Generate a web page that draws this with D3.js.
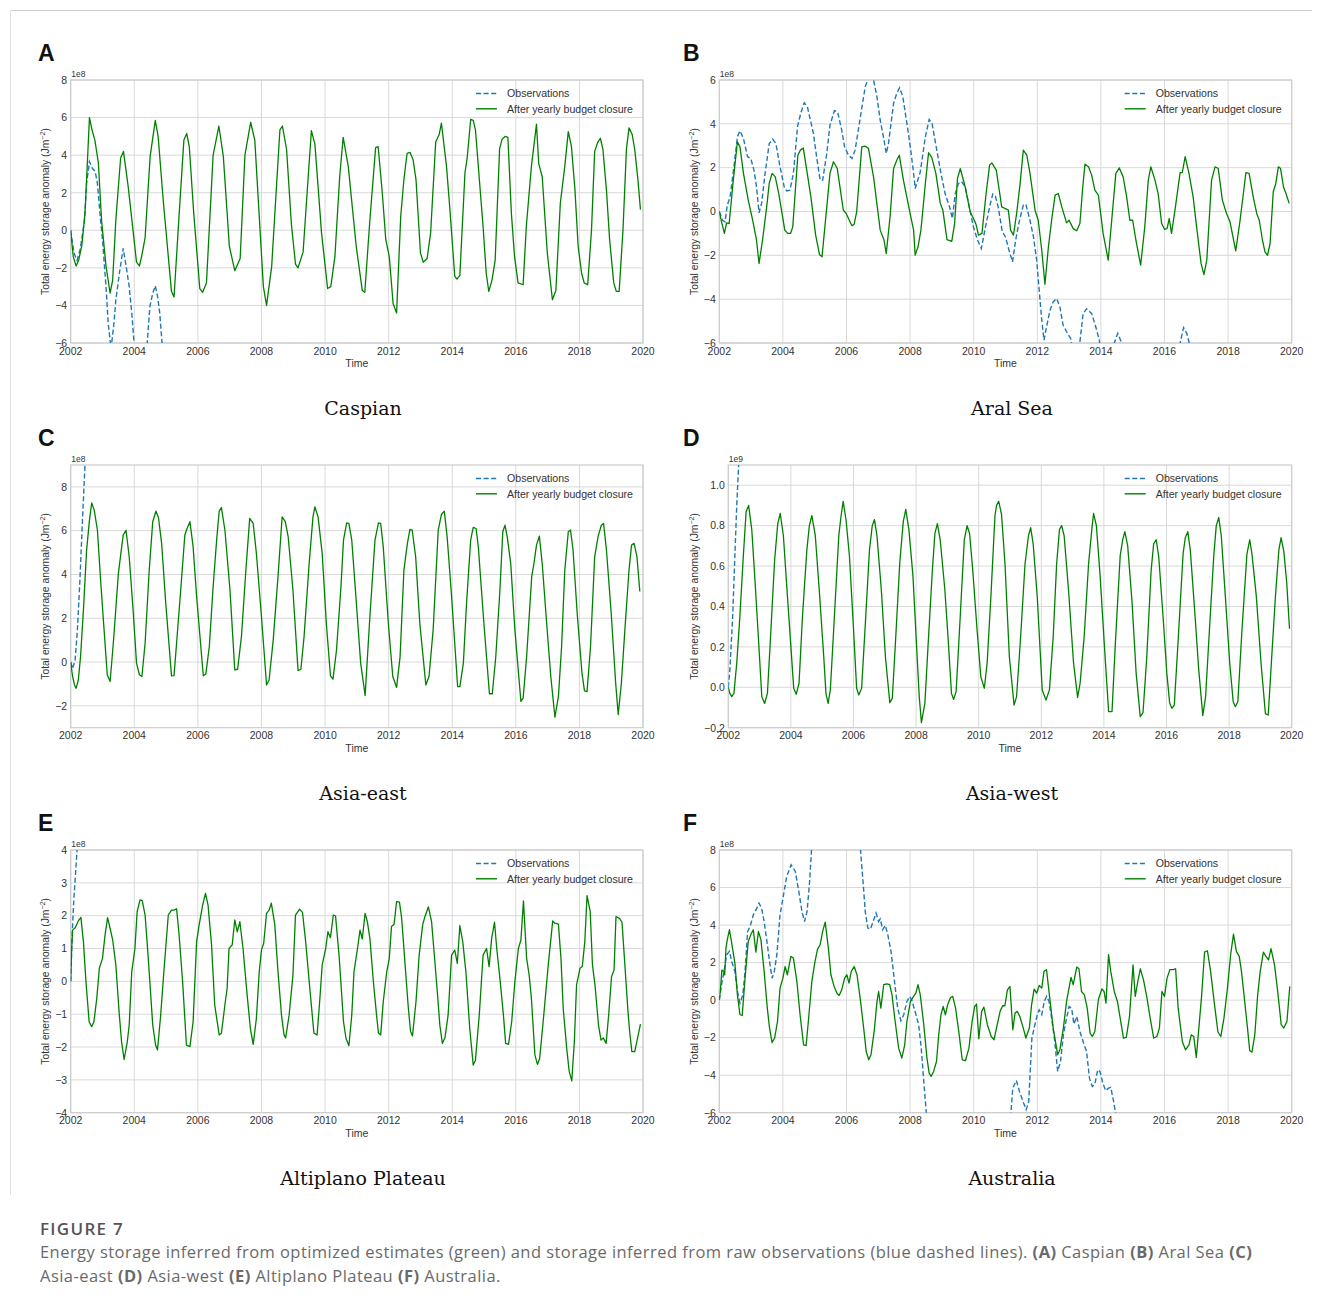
<!DOCTYPE html>
<html>
<head>
<meta charset="utf-8">
<script src="https://cdn.jsdelivr.net/npm/d3@7"></script>
<style>
  body { margin: 0; background: #fff; }
  svg { display: block; }
</style>
</head>
<body>
<svg id="fig" width="1322" height="1309"></svg>
<script>
// values, in units of the axis offset (1e8, or 1e9 for Asia-west)
const caspianBudget = [[2002.0,0],[2002.08,-1.4],[2002.17,-1.9],[2002.25,-1.6],[2002.35,-0.8],[2002.45,0.9],[2002.59,6.0],[2002.67,5.35],[2002.76,4.8],[2002.87,3.6],[2002.97,0.55],[2003.11,-1.9],[2003.24,-3.35],[2003.32,-2.65],[2003.42,0.55],[2003.57,3.85],[2003.66,4.2],[2003.81,2.3],[2003.97,-0.15],[2004.07,-1.7],[2004.16,-1.9],[2004.23,-1.4],[2004.34,-0.4],[2004.5,3.95],[2004.66,5.85],[2004.75,5.0],[2004.91,1.6],[2005.07,-1.4],[2005.17,-3.25],[2005.25,-3.55],[2005.42,1.1],[2005.56,4.8],[2005.65,5.15],[2005.73,4.45],[2005.87,0.9],[2006.06,-3.1],[2006.15,-3.3],[2006.27,-2.8],[2006.48,4.0],[2006.66,5.55],[2006.8,3.95],[2006.99,-0.85],[2007.16,-2.15],[2007.33,-1.5],[2007.48,4.0],[2007.66,5.75],[2007.79,4.8],[2008.06,-3.0],[2008.16,-4.0],[2008.32,-1.95],[2008.58,5.35],[2008.66,5.55],[2008.79,4.3],[2008.94,0.35],[2009.07,-1.8],[2009.15,-2.0],[2009.31,-1.15],[2009.47,2.85],[2009.57,5.3],[2009.68,4.6],[2009.89,-0.15],[2010.08,-3.1],[2010.18,-3.0],[2010.31,-1.4],[2010.46,2.85],[2010.57,4.95],[2010.73,3.4],[2010.98,-0.85],[2011.17,-3.2],[2011.25,-3.3],[2011.41,0.55],[2011.59,4.4],[2011.67,4.45],[2011.8,2.0],[2011.91,-0.5],[2012.02,-1.4],[2012.14,-3.9],[2012.25,-4.4],[2012.38,0.75],[2012.48,2.7],[2012.58,4.1],[2012.67,4.15],[2012.77,3.75],[2012.86,2.7],[2013.0,-1.2],[2013.09,-1.7],[2013.21,-1.5],[2013.32,-0.15],[2013.48,4.7],[2013.59,5.1],[2013.66,5.7],[2013.82,3.4],[2013.92,1.25],[2014.08,-2.45],[2014.15,-2.6],[2014.24,-2.4],[2014.4,3.05],[2014.47,3.85],[2014.58,5.9],[2014.66,5.85],[2014.73,5.35],[2014.97,0.2],[2015.07,-2.3],[2015.15,-3.25],[2015.25,-2.65],[2015.35,-1.6],[2015.49,4.35],[2015.57,4.85],[2015.67,5.0],[2015.75,4.95],[2015.86,0.9],[2015.96,-1.4],[2016.07,-2.8],[2016.23,-2.9],[2016.33,0.2],[2016.49,3.4],[2016.65,5.65],[2016.72,3.55],[2016.83,2.85],[2016.99,-1.2],[2017.15,-3.7],[2017.26,-3.2],[2017.4,1.45],[2017.54,3.4],[2017.65,5.25],[2017.75,4.45],[2017.86,2.15],[2017.96,-0.85],[2018.07,-2.3],[2018.15,-2.8],[2018.26,-2.9],[2018.38,0.0],[2018.48,4.2],[2018.57,4.65],[2018.66,4.9],[2018.74,4.3],[2018.85,2.15],[2018.95,-0.5],[2019.08,-2.8],[2019.16,-3.25],[2019.25,-3.25],[2019.37,0.0],[2019.48,4.35],[2019.56,5.45],[2019.66,5.1],[2019.74,4.3],[2019.84,2.7],[2019.92,1.1]];
const caspianObs = [[2002.0,0],[2002.1,-1.2],[2002.2,-1.6],[2002.3,-1.0],[2002.43,0.46],[2002.5,2.5],[2002.59,3.66],[2002.68,3.3],[2002.77,3.13],[2002.84,2.5],[2002.92,0.9],[2003.0,-0.5],[2003.11,-3.0],[2003.18,-4.95],[2003.27,-6.3],[2003.36,-4.95],[2003.42,-3.7],[2003.53,-2.3],[2003.65,-0.96],[2003.76,-2.1],[2003.84,-3.0],[2003.92,-4.4],[2003.99,-5.93],[2004.1,-7.5],[2004.3,-7.5],[2004.41,-5.93],[2004.49,-4.06],[2004.58,-3.35],[2004.66,-2.95],[2004.73,-3.5],[2004.8,-4.4],[2004.87,-5.93],[2005.0,-8]];

const aralBudget = [[2002.0,0],[2002.07,-0.47],[2002.16,-1.0],[2002.23,-0.52],[2002.31,-0.55],[2002.44,1.43],[2002.57,3.18],[2002.65,2.95],[2002.76,1.74],[2002.91,0.52],[2003.05,-0.4],[2003.17,-1.3],[2003.25,-2.37],[2003.36,-1.3],[2003.49,0.21],[2003.57,1.28],[2003.66,1.74],[2003.76,1.58],[2003.87,0.82],[2004.06,-0.85],[2004.15,-1.0],[2004.24,-1.0],[2004.31,-0.7],[2004.47,2.57],[2004.55,2.8],[2004.64,2.9],[2004.75,1.89],[2004.88,0.67],[2005.03,-1.08],[2005.15,-1.96],[2005.23,-2.07],[2005.38,0.21],[2005.48,1.74],[2005.59,2.27],[2005.71,1.96],[2005.9,0.06],[2005.99,-0.09],[2006.17,-0.65],[2006.24,-0.58],[2006.32,-0.02],[2006.48,2.95],[2006.59,2.98],[2006.69,2.88],[2006.85,1.58],[2007.06,-0.85],[2007.18,-1.3],[2007.25,-1.92],[2007.37,-0.24],[2007.48,1.96],[2007.58,2.34],[2007.66,2.57],[2007.79,1.43],[2008.0,-0.09],[2008.11,-0.85],[2008.16,-1.99],[2008.25,-1.61],[2008.34,-0.85],[2008.48,1.28],[2008.58,2.68],[2008.68,2.47],[2008.81,1.74],[2008.95,0.37],[2009.03,0.06],[2009.16,-1.28],[2009.31,-1.36],[2009.4,-0.55],[2009.49,1.51],[2009.58,1.96],[2009.73,1.13],[2009.89,-0.02],[2010.02,-0.4],[2010.08,-0.62],[2010.15,-1.08],[2010.26,-1.0],[2010.39,0.82],[2010.5,2.12],[2010.57,2.22],[2010.71,1.89],[2010.88,0.21],[2010.98,0.14],[2011.09,0.06],[2011.16,-0.85],[2011.25,-1.08],[2011.35,-0.09],[2011.46,1.28],[2011.56,2.8],[2011.67,2.57],[2011.77,1.74],[2011.93,0.06],[2012.03,-0.4],[2012.14,-1.77],[2012.24,-3.32],[2012.35,-1.61],[2012.45,-0.4],[2012.56,0.75],[2012.66,0.82],[2012.77,0.21],[2012.92,-0.52],[2013.0,-0.4],[2013.13,-0.78],[2013.24,-0.88],[2013.34,-0.55],[2013.43,1.13],[2013.5,2.16],[2013.61,2.04],[2013.71,1.66],[2013.81,0.97],[2013.92,0.75],[2014.07,-1.0],[2014.23,-2.22],[2014.34,-0.4],[2014.47,1.74],[2014.58,1.99],[2014.7,1.58],[2014.81,0.67],[2014.91,-0.4],[2015.0,-0.4],[2015.1,-1.3],[2015.25,-2.45],[2015.38,-0.7],[2015.49,1.43],[2015.57,2.04],[2015.7,1.43],[2015.8,0.82],[2015.91,-0.55],[2016.0,-0.81],[2016.08,-0.78],[2016.15,-0.32],[2016.22,-1.0],[2016.33,0.06],[2016.49,1.77],[2016.56,1.78],[2016.65,2.5],[2016.77,1.74],[2016.9,0.67],[2017.01,-0.7],[2017.15,-2.37],[2017.24,-2.88],[2017.33,-2.22],[2017.48,1.43],[2017.59,2.04],[2017.69,1.96],[2017.82,0.52],[2017.95,-0.09],[2018.06,-0.47],[2018.24,-1.8],[2018.37,-0.47],[2018.48,0.82],[2018.56,1.77],[2018.66,1.74],[2018.79,0.67],[2018.9,-0.09],[2018.98,-0.4],[2019.08,-1.3],[2019.16,-1.84],[2019.24,-2.0],[2019.32,-1.46],[2019.42,0.9],[2019.5,1.28],[2019.58,2.04],[2019.65,1.96],[2019.74,1.13],[2019.82,0.82],[2019.92,0.37]];
const aralObs = [[2002.0,0],[2002.1,-0.4],[2002.18,-0.47],[2002.25,0.29],[2002.34,0.67],[2002.46,2.04],[2002.57,3.41],[2002.65,3.68],[2002.76,3.33],[2002.89,2.5],[2002.99,2.42],[2003.09,1.89],[2003.17,1.13],[2003.25,-0.06],[2003.33,0.37],[2003.44,1.74],[2003.57,3.1],[2003.68,3.3],[2003.78,3.1],[2003.91,2.04],[2004.04,1.13],[2004.12,0.94],[2004.22,0.97],[2004.33,1.74],[2004.46,3.87],[2004.56,4.48],[2004.67,4.96],[2004.77,4.78],[2004.96,3.56],[2005.06,2.5],[2005.17,1.43],[2005.25,1.43],[2005.38,2.65],[2005.48,3.94],[2005.62,4.6],[2005.72,4.55],[2005.85,3.71],[2005.94,2.95],[2006.06,2.57],[2006.17,2.42],[2006.27,2.8],[2006.43,4.25],[2006.59,5.7],[2006.69,6.08],[2006.85,6.0],[2006.95,5.3],[2007.06,4.17],[2007.18,3.26],[2007.25,2.65],[2007.32,3.1],[2007.48,4.93],[2007.58,5.39],[2007.67,5.65],[2007.77,5.24],[2007.9,4.02],[2008.02,2.8],[2008.11,1.74],[2008.16,1.05],[2008.21,1.28],[2008.32,1.81],[2008.48,3.41],[2008.6,4.2],[2008.69,4.02],[2008.84,2.8],[2008.97,1.74],[2009.1,0.82],[2009.24,0.21],[2009.33,-0.32],[2009.42,0.82],[2009.52,1.28],[2009.62,1.36],[2009.73,1.13],[2009.84,0.37],[2009.99,-0.7],[2010.12,-1.3],[2010.24,-1.69],[2010.36,-0.78],[2010.5,0.21],[2010.6,0.8],[2010.68,0.7],[2010.77,0.21],[2010.9,-0.93],[2011.0,-1.16],[2011.11,-1.77],[2011.22,-2.3],[2011.32,-1.3],[2011.43,-0.47],[2011.56,0.29],[2011.64,0.33],[2011.77,-0.4],[2011.88,-1.16],[2011.98,-2.22],[2012.06,-3.6],[2012.14,-4.96],[2012.21,-5.87],[2012.29,-5.27],[2012.4,-4.5],[2012.5,-4.12],[2012.61,-3.97],[2012.71,-4.35],[2012.81,-5.18],[2012.95,-5.56],[2013.05,-5.8],[2013.18,-6.8],[2013.34,-5.95],[2013.44,-4.66],[2013.55,-4.44],[2013.71,-4.66],[2013.84,-5.27],[2013.95,-5.87],[2014.15,-8],[2014.43,-5.95],[2014.53,-5.56],[2014.64,-5.95],[2015.0,-9],[2016.2,-9],[2016.5,-5.95],[2016.6,-5.3],[2016.7,-5.56],[2016.77,-5.95],[2017.0,-8]];

const asiaEastBudget = [[2002.0,-0.02],[2002.06,-0.66],[2002.12,-1.05],[2002.17,-1.2],[2002.24,-0.82],[2002.31,0.25],[2002.4,2.37],[2002.5,5.1],[2002.59,6.48],[2002.66,7.27],[2002.74,6.94],[2002.84,6.03],[2002.94,3.75],[2003.05,1.47],[2003.15,-0.58],[2003.24,-0.89],[2003.34,0.86],[2003.5,4.05],[2003.65,5.8],[2003.74,6.02],[2003.84,4.81],[2003.97,2.23],[2004.07,-0.05],[2004.16,-0.58],[2004.24,-0.66],[2004.34,0.86],[2004.47,4.2],[2004.58,6.41],[2004.68,6.89],[2004.76,6.6],[2004.86,5.42],[2004.99,2.68],[2005.17,-0.63],[2005.25,-0.62],[2005.33,0.86],[2005.46,3.29],[2005.59,5.8],[2005.66,6.1],[2005.75,6.41],[2005.85,5.27],[2005.96,2.99],[2006.17,-0.63],[2006.25,-0.55],[2006.36,0.71],[2006.48,3.45],[2006.59,5.57],[2006.67,6.89],[2006.74,7.06],[2006.85,6.03],[2007.01,3.29],[2007.16,-0.36],[2007.25,-0.33],[2007.37,1.16],[2007.51,4.2],[2007.63,6.56],[2007.74,6.33],[2007.84,4.96],[2008.0,2.08],[2008.16,-1.05],[2008.24,-0.82],[2008.37,1.01],[2008.52,3.9],[2008.65,6.63],[2008.75,6.41],[2008.84,5.72],[2008.99,3.29],[2009.15,-0.39],[2009.24,-0.33],[2009.34,1.16],[2009.5,4.5],[2009.62,6.63],[2009.68,7.09],[2009.78,6.63],[2009.91,4.96],[2010.04,1.77],[2010.17,-0.63],[2010.25,-0.78],[2010.36,0.55],[2010.5,3.44],[2010.58,5.57],[2010.68,6.36],[2010.75,6.33],[2010.84,5.57],[2010.97,2.99],[2011.12,-0.05],[2011.26,-1.53],[2011.41,2.07],[2011.57,5.57],[2011.68,6.36],[2011.75,6.33],[2011.83,5.27],[2011.99,1.77],[2012.13,-0.66],[2012.25,-1.16],[2012.36,0.25],[2012.48,4.2],[2012.59,5.42],[2012.67,6.06],[2012.74,6.03],[2012.85,4.81],[2012.98,1.77],[2013.17,-1.05],[2013.27,-0.66],[2013.4,1.47],[2013.56,6.03],[2013.66,6.74],[2013.75,6.89],[2013.84,5.72],[2013.98,2.99],[2014.17,-1.12],[2014.24,-1.12],[2014.35,-0.05],[2014.45,2.68],[2014.58,5.57],[2014.66,6.15],[2014.75,6.1],[2014.82,5.27],[2014.98,2.07],[2015.17,-1.45],[2015.26,-1.45],[2015.37,0.25],[2015.5,3.29],[2015.59,5.95],[2015.66,6.25],[2015.73,5.72],[2015.84,4.5],[2015.97,1.47],[2016.16,-1.8],[2016.23,-1.65],[2016.34,0.25],[2016.5,3.9],[2016.57,4.5],[2016.65,5.34],[2016.74,5.75],[2016.83,4.5],[2016.97,1.77],[2017.1,-0.66],[2017.23,-2.52],[2017.34,-1.57],[2017.44,0.71],[2017.54,4.2],[2017.65,5.95],[2017.72,6.03],[2017.8,5.12],[2017.93,2.23],[2018.08,-0.5],[2018.16,-1.32],[2018.24,-1.35],[2018.35,0.71],[2018.48,4.81],[2018.59,5.75],[2018.69,6.25],[2018.76,6.33],[2018.85,5.12],[2019.0,2.23],[2019.14,-0.96],[2019.22,-2.4],[2019.32,-0.96],[2019.43,1.47],[2019.56,4.2],[2019.64,5.34],[2019.72,5.42],[2019.81,4.81],[2019.9,3.22]];
const asiaEastObs = [[2002.0,0],[2002.06,-0.3],[2002.14,0.1],[2002.21,1.45],[2002.29,3.75],[2002.38,6.8],[2002.45,9.0],[2002.6,12]];

const asiaWestBudget = [[2002.0,0.0],[2002.05,-0.03],[2002.11,-0.046],[2002.18,-0.03],[2002.27,0.12],[2002.37,0.35],[2002.48,0.65],[2002.57,0.87],[2002.65,0.9],[2002.75,0.78],[2002.86,0.51],[2002.96,0.25],[2003.07,-0.046],[2003.16,-0.08],[2003.25,-0.03],[2003.34,0.22],[2003.48,0.63],[2003.58,0.81],[2003.66,0.86],[2003.76,0.75],[2003.89,0.45],[2004.0,0.2],[2004.09,-0.005],[2004.17,-0.035],[2004.26,0.02],[2004.37,0.35],[2004.51,0.68],[2004.59,0.8],[2004.67,0.85],[2004.78,0.75],[2004.92,0.45],[2005.05,0.15],[2005.12,-0.03],[2005.19,-0.08],[2005.26,-0.013],[2005.39,0.35],[2005.53,0.75],[2005.6,0.845],[2005.67,0.92],[2005.76,0.83],[2005.87,0.65],[2005.99,0.32],[2006.1,-0.005],[2006.17,-0.038],[2006.26,-0.005],[2006.38,0.32],[2006.51,0.68],[2006.6,0.8],[2006.67,0.83],[2006.75,0.75],[2006.89,0.48],[2007.02,0.15],[2007.16,-0.076],[2007.24,-0.055],[2007.34,0.22],[2007.48,0.62],[2007.59,0.82],[2007.67,0.88],[2007.77,0.78],[2007.9,0.55],[2007.99,0.28],[2008.1,-0.046],[2008.17,-0.175],[2008.28,-0.08],[2008.38,0.2],[2008.52,0.58],[2008.6,0.76],[2008.68,0.81],[2008.77,0.73],[2008.92,0.48],[2009.04,0.2],[2009.13,-0.03],[2009.2,-0.06],[2009.28,-0.02],[2009.41,0.35],[2009.54,0.73],[2009.63,0.8],[2009.71,0.76],[2009.81,0.58],[2009.95,0.28],[2010.07,0.05],[2010.18,-0.005],[2010.27,0.12],[2010.39,0.45],[2010.52,0.85],[2010.57,0.9],[2010.64,0.92],[2010.73,0.855],[2010.84,0.61],[2010.98,0.15],[2011.13,-0.088],[2011.21,-0.046],[2011.34,0.25],[2011.48,0.61],[2011.59,0.75],[2011.66,0.79],[2011.74,0.71],[2011.87,0.45],[2012.03,-0.013],[2012.15,-0.063],[2012.26,-0.013],[2012.38,0.25],[2012.49,0.61],[2012.58,0.78],[2012.65,0.8],[2012.73,0.75],[2012.87,0.48],[2013.03,0.12],[2013.16,-0.05],[2013.24,0.02],[2013.37,0.25],[2013.51,0.61],[2013.62,0.79],[2013.67,0.86],[2013.76,0.8],[2013.88,0.55],[2014.01,0.22],[2014.15,-0.12],[2014.26,-0.12],[2014.36,0.2],[2014.52,0.65],[2014.6,0.73],[2014.67,0.77],[2014.76,0.7],[2014.9,0.42],[2015.03,0.07],[2015.16,-0.145],[2015.25,-0.125],[2015.37,0.15],[2015.51,0.58],[2015.59,0.71],[2015.67,0.73],[2015.75,0.65],[2015.89,0.35],[2016.01,0.07],[2016.1,-0.076],[2016.17,-0.104],[2016.25,-0.088],[2016.39,0.28],[2016.53,0.66],[2016.6,0.74],[2016.68,0.77],[2016.76,0.68],[2016.9,0.38],[2017.03,0.086],[2017.16,-0.14],[2017.25,-0.046],[2017.37,0.28],[2017.51,0.65],[2017.59,0.8],[2017.67,0.84],[2017.75,0.75],[2017.88,0.45],[2018.02,0.12],[2018.13,-0.07],[2018.2,-0.096],[2018.28,-0.07],[2018.41,0.28],[2018.57,0.66],[2018.66,0.73],[2018.73,0.66],[2018.87,0.45],[2019.02,0.12],[2019.16,-0.13],[2019.25,-0.137],[2019.35,0.12],[2019.48,0.45],[2019.59,0.68],[2019.66,0.74],[2019.75,0.67],[2019.84,0.52],[2019.93,0.29]];
const asiaWestObs = [[2002.0,0.0],[2002.05,0.086],[2002.14,0.35],[2002.21,0.65],[2002.27,0.9],[2002.33,1.1],[2002.45,1.4]];

const altiplanoBudget = [[2002.0,0.0],[2002.03,1.0],[2002.06,1.56],[2002.14,1.63],[2002.24,1.84],[2002.32,1.95],[2002.4,1.21],[2002.48,-0.01],[2002.58,-1.23],[2002.66,-1.38],[2002.73,-1.23],[2002.82,-0.52],[2002.9,0.4],[2003.0,0.7],[2003.08,1.41],[2003.16,1.94],[2003.24,1.61],[2003.32,1.26],[2003.42,0.5],[2003.53,-1.03],[2003.6,-1.84],[2003.68,-2.38],[2003.78,-1.84],[2003.84,-1.33],[2003.92,0.29],[2004.02,1.0],[2004.09,2.12],[2004.18,2.48],[2004.25,2.46],[2004.34,2.02],[2004.44,0.7],[2004.58,-1.33],[2004.67,-1.94],[2004.73,-2.09],[2004.83,-1.03],[2004.93,0.29],[2005.07,2.02],[2005.17,2.17],[2005.25,2.17],[2005.33,2.21],[2005.41,1.41],[2005.52,-0.01],[2005.64,-1.94],[2005.75,-1.99],[2005.85,-1.23],[2005.96,1.21],[2006.04,1.72],[2006.15,2.32],[2006.24,2.68],[2006.32,2.32],[2006.43,1.11],[2006.53,-0.72],[2006.67,-1.63],[2006.74,-1.58],[2006.85,-0.72],[2006.92,-0.21],[2006.98,1.0],[2007.08,1.11],[2007.16,1.87],[2007.24,1.51],[2007.32,1.82],[2007.42,1.0],[2007.55,-0.42],[2007.65,-1.43],[2007.74,-1.92],[2007.84,-1.13],[2007.93,0.29],[2008.0,0.95],[2008.07,1.16],[2008.16,2.07],[2008.24,2.17],[2008.31,2.38],[2008.42,1.72],[2008.52,0.29],[2008.63,-1.03],[2008.71,-1.63],[2008.76,-1.72],[2008.87,-1.03],[2008.99,0.19],[2009.07,2.02],[2009.2,2.2],[2009.29,2.1],[2009.39,1.21],[2009.52,-0.21],[2009.65,-1.58],[2009.75,-1.63],[2009.83,-0.62],[2009.91,0.5],[2010.02,1.0],[2010.09,1.51],[2010.17,1.33],[2010.26,2.02],[2010.33,1.99],[2010.44,0.8],[2010.58,-1.23],[2010.66,-1.74],[2010.75,-1.96],[2010.84,-1.03],[2010.91,0.29],[2011.02,1.0],[2011.1,1.56],[2011.17,1.29],[2011.26,2.07],[2011.33,1.82],[2011.41,1.31],[2011.52,-0.01],[2011.62,-1.03],[2011.68,-1.58],[2011.75,-1.63],[2011.83,-0.62],[2011.94,0.29],[2012.02,0.7],[2012.09,1.67],[2012.17,1.74],[2012.25,2.43],[2012.34,2.41],[2012.41,1.92],[2012.51,0.6],[2012.62,-0.82],[2012.69,-1.53],[2012.75,-1.66],[2012.86,-0.62],[2012.96,0.8],[2013.07,1.72],[2013.14,1.97],[2013.25,2.27],[2013.35,1.82],[2013.42,1.0],[2013.53,-0.31],[2013.61,-1.33],[2013.69,-1.89],[2013.77,-1.72],[2013.87,-1.03],[2013.98,0.8],[2014.08,0.95],[2014.16,0.55],[2014.24,1.7],[2014.33,1.21],[2014.43,0.29],[2014.55,-1.43],[2014.66,-2.55],[2014.73,-2.4],[2014.85,-1.03],[2014.97,0.8],[2015.08,1.0],[2015.16,0.45],[2015.24,1.31],[2015.33,1.8],[2015.4,1.0],[2015.51,-0.01],[2015.61,-1.03],[2015.68,-1.89],[2015.77,-1.92],[2015.87,-1.23],[2015.97,-0.01],[2016.08,1.0],[2016.16,1.26],[2016.24,2.45],[2016.34,0.7],[2016.42,0.19],[2016.49,-0.52],[2016.6,-2.24],[2016.68,-2.53],[2016.75,-2.35],[2016.86,-1.23],[2017.02,0.5],[2017.16,1.84],[2017.23,1.77],[2017.34,1.74],[2017.42,0.7],[2017.49,-0.82],[2017.6,-2.04],[2017.68,-2.75],[2017.76,-3.03],[2017.84,-1.84],[2017.91,-0.11],[2018.02,0.4],[2018.09,0.45],[2018.17,1.21],[2018.24,2.61],[2018.34,2.12],[2018.41,0.5],[2018.49,-0.11],[2018.6,-1.33],[2018.68,-1.79],[2018.75,-1.72],[2018.84,-1.89],[2018.92,-1.03],[2019.01,0.14],[2019.09,0.35],[2019.15,1.97],[2019.26,1.92],[2019.34,1.8],[2019.43,0.5],[2019.52,-0.82],[2019.58,-1.53],[2019.65,-2.14],[2019.74,-2.14],[2019.85,-1.63],[2019.92,-1.3]];
const altiplanoObs = [[2002.0,0.0],[2002.05,1.51],[2002.1,2.53],[2002.16,3.39],[2002.2,4.0],[2002.3,5.0]];

const australiaBudget = [[2002.0,0.0],[2002.04,0.64],[2002.08,1.6],[2002.14,1.53],[2002.17,1.35],[2002.21,2.77],[2002.25,3.21],[2002.32,3.75],[2002.39,3.04],[2002.49,1.97],[2002.57,0.28],[2002.65,-0.78],[2002.72,-0.82],[2002.81,1.17],[2002.91,3.13],[2002.99,3.48],[2003.07,3.75],[2003.15,2.56],[2003.23,3.66],[2003.31,3.21],[2003.41,1.53],[2003.51,-0.43],[2003.58,-1.49],[2003.66,-2.26],[2003.74,-2.02],[2003.83,-1.14],[2003.91,0.64],[2004.0,1.17],[2004.07,1.79],[2004.14,1.35],[2004.25,2.33],[2004.33,2.24],[2004.44,0.99],[2004.54,-0.78],[2004.65,-2.38],[2004.73,-2.42],[2004.8,-1.14],[2004.91,0.99],[2005.01,2.06],[2005.09,2.72],[2005.17,2.95],[2005.25,3.66],[2005.33,4.16],[2005.43,2.77],[2005.51,1.35],[2005.61,0.73],[2005.7,0.37],[2005.77,0.25],[2005.85,0.55],[2005.94,1.17],[2006.01,1.35],[2006.08,0.91],[2006.15,1.53],[2006.24,1.79],[2006.33,1.35],[2006.43,0.11],[2006.54,-1.49],[2006.62,-2.74],[2006.7,-3.18],[2006.77,-2.91],[2006.87,-1.67],[2006.96,-0.07],[2007.01,0.46],[2007.08,-0.43],[2007.17,0.82],[2007.27,0.87],[2007.36,0.82],[2007.43,0.28],[2007.53,-1.14],[2007.64,-2.56],[2007.74,-3.09],[2007.83,-2.38],[2007.9,-1.14],[2008.01,-0.07],[2008.11,0.2],[2008.18,0.37],[2008.25,0.82],[2008.32,0.28],[2008.43,-1.31],[2008.53,-3.09],[2008.6,-3.89],[2008.66,-4.07],[2008.74,-3.8],[2008.83,-3.27],[2008.9,-1.85],[2008.97,-0.78],[2009.04,-0.34],[2009.11,-0.78],[2009.18,-0.25],[2009.27,0.14],[2009.34,0.2],[2009.43,-0.43],[2009.53,-1.67],[2009.64,-3.18],[2009.74,-3.23],[2009.85,-2.56],[2009.95,-1.14],[2010.03,-0.34],[2010.09,-0.21],[2010.16,-2.06],[2010.25,-0.6],[2010.32,-0.37],[2010.43,-1.31],[2010.55,-1.94],[2010.64,-2.11],[2010.74,-1.31],[2010.83,-0.6],[2010.91,-0.3],[2010.98,-0.3],[2011.06,0.55],[2011.14,0.73],[2011.23,-1.58],[2011.3,-0.69],[2011.37,-0.6],[2011.45,-0.87],[2011.56,-1.49],[2011.64,-2.02],[2011.75,-1.49],[2011.82,-0.25],[2011.9,0.59],[2011.98,0.37],[2012.06,0.78],[2012.14,0.64],[2012.21,1.53],[2012.29,1.62],[2012.38,0.28],[2012.5,-1.49],[2012.64,-2.91],[2012.71,-2.65],[2012.82,-1.49],[2012.92,-0.07],[2013.06,1.21],[2013.13,0.82],[2013.24,1.76],[2013.31,1.67],[2013.39,0.46],[2013.48,0.28],[2013.57,-0.43],[2013.66,-1.76],[2013.73,-1.94],[2013.81,-1.67],[2013.92,0.02],[2014.03,0.6],[2014.1,0.46],[2014.16,-0.16],[2014.24,2.42],[2014.31,1.53],[2014.42,0.46],[2014.52,-0.07],[2014.64,-1.31],[2014.71,-2.02],[2014.8,-1.99],[2014.9,-0.87],[2015.01,1.88],[2015.08,0.2],[2015.16,0.99],[2015.24,1.67],[2015.34,1.08],[2015.45,0.11],[2015.55,-0.96],[2015.66,-2.02],[2015.76,-1.94],[2015.84,-1.49],[2015.92,0.46],[2016.0,0.2],[2016.08,1.17],[2016.17,1.62],[2016.27,1.62],[2016.35,1.67],[2016.43,-0.43],[2016.56,-2.2],[2016.66,-2.65],[2016.77,-2.38],[2016.84,-1.85],[2016.92,-1.94],[2017.0,-3.05],[2017.08,-1.49],[2017.17,0.28],[2017.26,2.56],[2017.35,2.63],[2017.45,1.53],[2017.56,-0.07],[2017.68,-1.7],[2017.77,-1.94],[2017.87,-0.96],[2017.98,0.64],[2018.08,2.42],[2018.17,3.52],[2018.26,2.6],[2018.35,2.33],[2018.42,1.53],[2018.5,0.28],[2018.61,-1.49],[2018.68,-2.7],[2018.75,-2.77],[2018.84,-1.85],[2018.93,0.28],[2019.01,1.53],[2019.11,2.56],[2019.19,2.33],[2019.27,2.15],[2019.35,2.74],[2019.46,1.88],[2019.56,0.46],[2019.67,-1.31],[2019.75,-1.49],[2019.85,-1.14],[2019.94,0.73]];
const australiaObs = [[2002.0,0.0],[2002.07,0.82],[2002.15,1.53],[2002.23,2.42],[2002.32,2.6],[2002.39,2.06],[2002.49,1.53],[2002.57,0.46],[2002.65,-0.16],[2002.74,0.28],[2002.81,1.53],[2002.89,3.66],[2002.97,3.93],[2003.07,4.55],[2003.18,4.9],[2003.25,5.17],[2003.33,4.9],[2003.41,4.19],[2003.49,3.21],[2003.58,2.06],[2003.66,1.17],[2003.73,1.53],[2003.81,2.42],[2003.91,4.55],[2004.02,5.61],[2004.12,6.59],[2004.26,7.21],[2004.39,6.86],[2004.5,5.79],[2004.6,4.72],[2004.68,4.19],[2004.76,4.72],[2004.84,6.32],[2004.9,8.0],[2005.1,11],[2006.2,11],[2006.44,8.0],[2006.52,6.32],[2006.59,4.72],[2006.67,3.84],[2006.75,3.78],[2006.84,4.19],[2006.93,4.64],[2007.01,4.19],[2007.06,4.33],[2007.14,3.75],[2007.22,3.98],[2007.3,3.48],[2007.4,2.6],[2007.51,0.99],[2007.61,-0.43],[2007.71,-1.1],[2007.8,-0.78],[2007.9,-0.07],[2007.99,0.2],[2008.06,-0.04],[2008.17,-0.69],[2008.27,-1.31],[2008.35,-2.56],[2008.43,-4.33],[2008.51,-6.0],[2008.7,-9],[2010.9,-9],[2011.17,-6.0],[2011.23,-4.69],[2011.34,-4.28],[2011.44,-4.87],[2011.55,-5.4],[2011.65,-5.84],[2011.73,-5.4],[2011.83,-2.02],[2011.9,-1.49],[2012.0,-0.78],[2012.06,-0.52],[2012.14,-0.78],[2012.22,-0.07],[2012.29,0.2],[2012.37,-0.07],[2012.45,-0.96],[2012.55,-2.2],[2012.64,-3.8],[2012.73,-3.27],[2012.82,-1.85],[2012.9,-1.14],[2013.0,-0.34],[2013.08,-0.43],[2013.15,-1.28],[2013.24,-0.87],[2013.34,-1.67],[2013.45,-2.26],[2013.55,-2.74],[2013.64,-4.16],[2013.73,-4.6],[2013.81,-4.48],[2013.9,-3.71],[2013.97,-3.8],[2014.06,-4.42],[2014.15,-4.83],[2014.24,-4.69],[2014.31,-4.65],[2014.4,-5.4],[2014.46,-6.0],[2014.6,-8]];

const panelLetters = ["A", "B", "C", "D", "E", "F"];
const panelTitles = ["Caspian", "Aral Sea", "Asia-east", "Asia-west", "Altiplano Plateau", "Australia"];
const yDomains = [[-6, 8], [-6, 6], [-3, 9], [-0.2, 1.1], [-4, 4], [-6, 8]];
const yTickValues = [
  [-6, -4, -2, 0, 2, 4, 6, 8],
  [-6, -4, -2, 0, 2, 4, 6],
  [-2, 0, 2, 4, 6, 8],
  [-0.2, 0.0, 0.2, 0.4, 0.6, 0.8, 1.0],
  [-4, -3, -2, -1, 0, 1, 2, 3, 4],
  [-6, -4, -2, 0, 2, 4, 6, 8]
];
const offsetLabels = ["1e8", "1e8", "1e8", "1e9", "1e8", "1e8"];
const xTickValues = [2002, 2004, 2006, 2008, 2010, 2012, 2014, 2016, 2018, 2020];
const legendLabels = ["Observations", "After yearly budget closure"];
const captionHead = "FIGURE 7";
const captionLines = [
  [["Energy storage inferred from optimized estimates (green) and storage inferred from raw observations (blue dashed lines). ", 0], ["(A)", 1], [" Caspian ", 0], ["(B)", 1], [" Aral Sea ", 0], ["(C)", 1]],
  [["Asia-east ", 0], ["(D)", 1], [" Asia-west ", 0], ["(E)", 1], [" Altiplano Plateau ", 0], ["(F)", 1], [" Australia.", 0]]
];

const obsSeries = [caspianObs, aralObs, asiaEastObs, asiaWestObs, altiplanoObs, australiaObs];
const budgetSeries = [caspianBudget, aralBudget, asiaEastBudget, asiaWestBudget, altiplanoBudget, australiaBudget];

// layout of each axes box (pixels)
const boxes = [
  { x0: 70.7, x1: 643, y0: 80, y1: 343, col: 0 },
  { x0: 719.3, x1: 1291.7, y0: 80, y1: 343, col: 1 },
  { x0: 70.7, x1: 643, y0: 465, y1: 727.7, col: 0 },
  { x0: 728.3, x1: 1291.7, y0: 465, y1: 727.7, col: 1 },
  { x0: 70.7, x1: 643, y0: 850, y1: 1112.7, col: 0 },
  { x0: 719.3, x1: 1291.7, y0: 850, y1: 1112.7, col: 1 }
];

const svg = d3.select("#fig");
const sans = "'Liberation Sans', Arial, sans-serif";
const gridColor = "#d9d9d9";
const textColor = "#333";
const minus = s => s.replace("-", "\u2212");

// thin frame of the page
svg.append("line").attr("x1", 10).attr("x2", 1312).attr("y1", 10.5).attr("y2", 10.5)
  .attr("stroke", "#d0d0d0").attr("stroke-width", 1);
svg.append("line").attr("x1", 10.5).attr("x2", 10.5).attr("y1", 10).attr("y2", 1195)
  .attr("stroke", "#e2e2e2").attr("stroke-width", 1);

boxes.forEach((b, i) => {
  const x = d3.scaleLinear().domain([2002, 2020]).range([b.x0, b.x1]);
  const y = d3.scaleLinear().domain(yDomains[i]).range([b.y1, b.y0]);
  const g = svg.append("g");

  // grid
  g.selectAll(".vg").data(xTickValues).join("line")
    .attr("x1", d => x(d)).attr("x2", d => x(d)).attr("y1", b.y0).attr("y2", b.y1)
    .attr("stroke", gridColor).attr("stroke-width", 1);
  g.selectAll(".hg").data(yTickValues[i]).join("line")
    .attr("x1", b.x0).attr("x2", b.x1).attr("y1", d => y(d)).attr("y2", d => y(d))
    .attr("stroke", gridColor).attr("stroke-width", 1);
  g.append("rect").attr("x", b.x0).attr("y", b.y0)
    .attr("width", b.x1 - b.x0).attr("height", b.y1 - b.y0)
    .attr("fill", "none").attr("stroke", "#cccccc").attr("stroke-width", 1.2);

  // tick labels
  g.selectAll(".xt").data(xTickValues).join("text")
    .attr("x", d => x(d)).attr("y", b.y1 + 11.5)
    .attr("text-anchor", "middle").attr("font-family", sans).attr("font-size", 10.5)
    .attr("fill", textColor).text(d => d);
  const fmt = i === 3 ? d3.format(".1f") : d3.format("d");
  g.selectAll(".yt").data(yTickValues[i]).join("text")
    .attr("x", b.x0 - 3.5).attr("y", d => y(d) + 3.8)
    .attr("text-anchor", "end").attr("font-family", sans).attr("font-size", 10.5)
    .attr("fill", textColor).text(d => minus(fmt(d)));
  g.append("text").attr("x", b.x0 + 0.5).attr("y", b.y0 - 3)
    .attr("font-family", sans).attr("font-size", 8.5).attr("fill", textColor)
    .text(offsetLabels[i]);

  // axis titles
  g.append("text").attr("x", (b.x0 + b.x1) / 2).attr("y", b.y1 + 24)
    .attr("text-anchor", "middle").attr("font-family", sans).attr("font-size", 10.5)
    .attr("fill", textColor).text("Time");
  const lx = b.col === 0 ? 48.5 : 697.5;
  const ly = (b.y0 + b.y1) / 2;
  const yl = g.append("text").attr("transform", `translate(${lx},${ly}) rotate(-90)`)
    .attr("text-anchor", "middle").attr("font-family", sans).attr("font-size", 10.3)
    .attr("fill", textColor);
  yl.append("tspan").text("Total energy storage anomaly (Jm");
  yl.append("tspan").attr("dy", -4).attr("font-size", 7.2).text("\u22122");
  yl.append("tspan").attr("dy", 4).text(")");

  // series, clipped to the axes
  const clipId = "clip" + i;
  svg.append("clipPath").attr("id", clipId).append("rect")
    .attr("x", b.x0).attr("y", b.y0).attr("width", b.x1 - b.x0).attr("height", b.y1 - b.y0);
  const line = d3.line().x(d => x(d[0])).y(d => y(d[1]));
  const lines = g.append("g").attr("clip-path", `url(#${clipId})`);
  lines.append("path").datum(obsSeries[i]).attr("d", line)
    .attr("fill", "none").attr("stroke", "#1f77b4").attr("stroke-width", 1.4)
    .attr("stroke-dasharray", "5,2.6");
  lines.append("path").datum(budgetSeries[i]).attr("d", line)
    .attr("fill", "none").attr("stroke", "#008000").attr("stroke-width", 1.3)
    .attr("stroke-linejoin", "round");

  // legend
  const lgx = b.x1 - 167, lgy = b.y0 + 13.5;
  legendLabels.forEach((lab, k) => {
    const yy = lgy + k * 15.3;
    g.append("line").attr("x1", lgx).attr("x2", lgx + 21).attr("y1", yy).attr("y2", yy)
      .attr("stroke", k === 0 ? "#1f77b4" : "#008000").attr("stroke-width", 1.4)
      .attr("stroke-dasharray", k === 0 ? "5,2.6" : null);
    g.append("text").attr("x", lgx + 31).attr("y", yy + 3.7)
      .attr("font-family", sans).attr("font-size", 10.6).attr("fill", textColor).text(lab);
  });

  // panel letter and title
  const letterX = b.col === 0 ? 38 : 683;
  svg.append("text").attr("x", letterX).attr("y", b.y0 - 19)
    .attr("font-family", sans).attr("font-weight", "bold").attr("font-size", 23)
    .attr("fill", "#111").text(panelLetters[i]);
  const titleX = b.col === 0 ? 363 : 1012;
  svg.append("text").attr("x", titleX).attr("y", b.y1 + 72)
    .attr("text-anchor", "middle").attr("font-family", "'DejaVu Serif', serif").attr("font-size", 19)
    .attr("fill", "#111").text(panelTitles[i]);
});

// caption
svg.append("text").attr("x", 40).attr("y", 1235)
  .attr("font-family", "'Open Sans', sans-serif").attr("font-size", 17).attr("font-weight", 600)
  .attr("fill", "#555").attr("letter-spacing", 1.3).text(captionHead);
captionLines.forEach((segs, k) => {
  const t = svg.append("text").attr("x", 40).attr("y", 1258 + k * 24)
    .attr("font-family", "'Open Sans', sans-serif").attr("font-size", 16.5)
    .attr("letter-spacing", 0.45).attr("fill", "#6a6a6a");
  segs.forEach(s => t.append("tspan").attr("font-weight", s[1] ? 700 : 400).text(s[0]));
});
</script>
</body>
</html>
